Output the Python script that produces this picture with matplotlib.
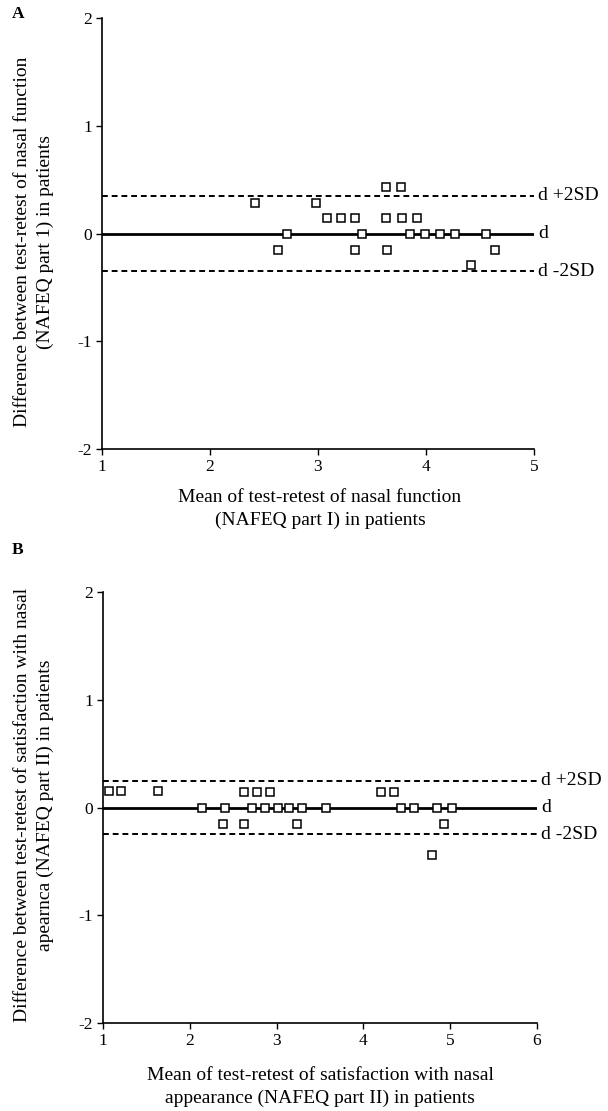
import matplotlib.pyplot as plt

plt.rcParams['font.family'] = ['Liberation Serif', 'DejaVu Serif']
plt.rcParams['axes.unicode_minus'] = False

# Panel A: nasal function (NAFEQ part I)
a_mean = [2.42, 2.63, 2.71, 2.98, 3.08, 3.21, 3.34, 3.34, 3.41, 3.63, 3.77,
          3.63, 3.64, 3.78, 3.92, 3.85, 3.99, 4.13, 4.27, 4.42, 4.56, 4.64]
a_diff = [0.28, -0.15, 0.0, 0.28, 0.14, 0.14, 0.14, -0.15, 0.0, 0.43, 0.43,
          0.14, -0.15, 0.14, 0.14, 0.0, 0.0, 0.0, 0.0, -0.29, 0.0, -0.15]
a_d = 0.0
a_sd2 = 0.35

# Panel B: satisfaction with nasal appearance (NAFEQ part II)
b_mean = [1.07, 1.21, 1.63, 2.14, 2.38, 2.41, 2.63, 2.63, 2.72, 2.77, 2.92,
          2.87, 3.02, 3.14, 3.23, 3.29, 3.57, 4.20, 4.35, 4.43, 4.58, 4.79,
          4.85, 4.93, 5.02]
b_diff = [0.15, 0.15, 0.15, 0.0, -0.15, 0.0, -0.15, 0.14, 0.0, 0.14, 0.14,
          0.0, 0.0, 0.0, -0.15, 0.0, 0.0, 0.14, 0.14, 0.0, 0.0, -0.44,
          0.0, -0.15, 0.0]
b_d = 0.0
b_sd2 = 0.25

fig = plt.figure(figsize=(6.08, 11.11), dpi=100)
W, H = 608, 1111
LABEL_FS = 14


def make_axes(left, top, right, bottom):
    return fig.add_axes([left / W, 1 - bottom / H, (right - left) / W, (bottom - top) / H])


def draw_panel(ax, xs, ys, d, sd2, xmax):
    ax.set_xlim(1, xmax)
    ax.set_ylim(-2, 2)
    ax.axhline(d, color='black', lw=2.0)
    ax.axhline(d + sd2, color='black', lw=1.4, ls=(0, (3, 2)))
    ax.axhline(d - sd2, color='black', lw=1.4, ls=(0, (3, 2)))
    ax.plot(xs, ys, ls='none', marker='s', ms=6, mfc='white', mec='black',
            mew=1.1, zorder=3)
    ax.set_xticks(range(1, xmax + 1))
    ax.set_yticks([-2, -1, 0, 1, 2])
    for s in ['top', 'right']:
        ax.spines[s].set_visible(False)
    for s in ['left', 'bottom']:
        ax.spines[s].set_linewidth(1.2)
    ax.tick_params(direction='out', length=4, width=1, labelsize=12.5, pad=3)
    # labels at the right side for the limits of agreement
    tr = ax.get_yaxis_transform()
    ax.text(1.01, d + sd2, 'd +2SD', transform=tr, va='center', ha='left', fontsize=LABEL_FS)
    ax.text(1.01, d, 'd', transform=tr, va='center', ha='left', fontsize=LABEL_FS)
    ax.text(1.01, d - sd2, 'd -2SD', transform=tr, va='center', ha='left', fontsize=LABEL_FS)


ax_a = make_axes(102, 18, 534, 449)
draw_panel(ax_a, a_mean, a_diff, a_d, a_sd2, 5)
ax_b = make_axes(103, 592, 537, 1023)
draw_panel(ax_b, b_mean, b_diff, b_d, b_sd2, 6)

fig.text(12 / W, 1 - 14 / H, 'A', fontsize=12.5, fontweight='bold', va='center', ha='left')
fig.text(12 / W, 1 - 550 / H, 'B', fontsize=12.5, fontweight='bold', va='center', ha='left')

fig.text(34 / W, 1 - 242 / H,
         'Difference between test-retest of nasal function\n(NAFEQ part 1) in patients',
         rotation=90, ha='center', va='center', fontsize=LABEL_FS, linespacing=1.5,
         multialignment='center')
fig.text(34 / W, 1 - 805 / H,
         'Difference between test-retest of satisfaction with nasal\napearnca (NAFEQ part II) in patients',
         rotation=90, ha='center', va='center', fontsize=LABEL_FS, linespacing=1.5,
         multialignment='center')

fig.text(320 / W, 1 - 509 / H,
         'Mean of test-retest of nasal function\n(NAFEQ part I) in patients',
         ha='center', va='center', fontsize=LABEL_FS, linespacing=1.5)
fig.text(320 / W, 1 - 1087 / H,
         'Mean of test-retest of satisfaction with nasal\nappearance (NAFEQ part II) in patients',
         ha='center', va='center', fontsize=LABEL_FS, linespacing=1.5)

fig.savefig('out.png', dpi=100)
